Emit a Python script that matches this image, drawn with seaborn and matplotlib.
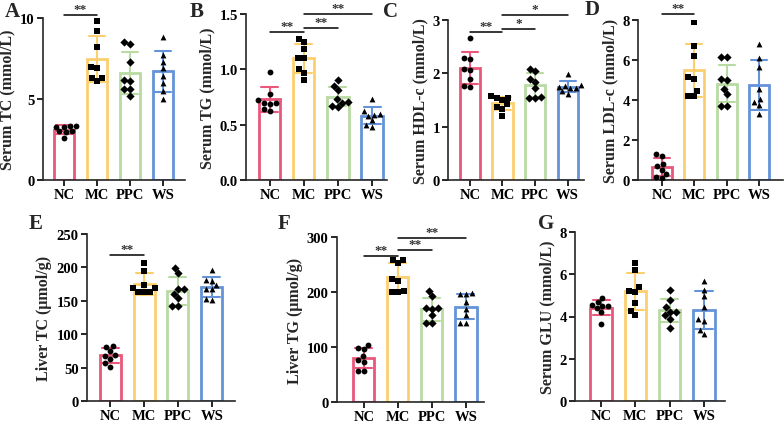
import numpy as np
import pandas as pd
import seaborn as sns
import matplotlib.pyplot as plt

groups = ["NC", "MC", "PPC", "WS"]
palette = ["#E9577A", "#FBCF6E", "#B9DAA3", "#6593D8"]
markers = ["o", "s", "D", "^"]

serum_tc = {
    "NC": [3.35, 3.35, 3.3, 3.3, 3.0, 3.0, 2.6, 2.95],
    "MC": [9.8, 9.2, 8.2, 7.0, 6.9, 6.3, 6.1, 6.3],
    "PPC": [8.5, 8.4, 7.3, 6.2, 6.1, 5.6, 5.6, 5.2],
    "WS": [8.8, 7.7, 7.3, 6.9, 6.4, 6.0, 5.5, 5.0],
}
serum_tg = {
    "NC": [0.98, 0.78, 0.72, 0.70, 0.70, 0.69, 0.64, 0.62],
    "MC": [1.275, 1.25, 1.185, 1.10, 1.10, 1.0, 0.97, 0.905],
    "PPC": [0.90, 0.85, 0.81, 0.735, 0.705, 0.70, 0.67, 0.66],
    "WS": [0.73, 0.62, 0.60, 0.59, 0.58, 0.54, 0.50, 0.48],
}
serum_hdl = {
    "NC": [2.66, 2.26, 2.28, 2.09, 2.07, 1.90, 1.77, 1.75],
    "MC": [1.575, 1.54, 1.53, 1.50, 1.42, 1.375, 1.34, 1.20],
    "PPC": [2.09, 2.04, 1.89, 1.84, 1.73, 1.56, 1.54, 1.53],
    "WS": [1.98, 1.79, 1.77, 1.75, 1.73, 1.72, 1.66, 1.62],
}
serum_ldl = {
    "NC": [1.3, 1.2, 0.8, 0.7, 0.5, 0.3, 0.15, 0.1],
    "MC": [7.9, 6.7, 6.2, 5.13, 5.05, 4.47, 4.22, 4.22],
    "PPC": [6.13, 6.13, 5.05, 5.0, 4.55, 4.3, 3.72, 3.72],
    "WS": [6.79, 6.08, 5.63, 4.55, 4.05, 3.89, 3.76, 3.31],
}
liver_tc = {
    "NC": [82.5, 81.5, 75, 69, 67.5, 63.5, 56.5, 51.5],
    "MC": [206, 194, 173.5, 168.5, 168.5, 163.5, 162.5, 162.5],
    "PPC": [198.5, 191, 167.5, 167.5, 160, 153.5, 141.5, 141.5],
    "WS": [196, 181, 180, 173.5, 167.5, 167.5, 152.5, 151.5],
}
liver_tg = {
    "NC": [103.8, 97.8, 96, 84, 76.6, 73.6, 55.5, 55.5],
    "MC": [259, 259, 253, 223, 220, 201.6, 200, 200],
    "PPC": [201.6, 192.5, 171, 171, 169, 158, 143, 143],
    "WS": [198.5, 195.5, 195.5, 181, 170, 159, 143, 143],
}
serum_glu = {
    "NC": [4.87, 4.67, 4.55, 4.52, 4.49, 4.39, 4.2, 3.65],
    "MC": [6.53, 6.18, 5.39, 5.23, 5.18, 4.64, 4.28, 4.07],
    "PPC": [5.26, 4.8, 4.44, 4.23, 4.23, 4.07, 3.88, 3.44],
    "WS": [5.66, 5.26, 4.96, 4.44, 3.88, 3.77, 3.38, 3.17],
}

# significance brackets: (group a, group b, height, label)
sig_a = [(0, 1, 10.2, "**")]
sig_b = [(0, 1, 1.336, "**"), (1, 2, 1.375, "**"), (1, 3, 1.5, "**")]
sig_c = [(0, 1, 2.78, "**"), (1, 2, 2.84, "*"), (1, 3, 3.09, "*")]
sig_d = [(0, 1, 8.28, "**")]
sig_e = [(0, 1, 219, "**")]
sig_f = [(0, 1, 265, "**"), (1, 2, 276, "**"), (1, 3, 299, "**")]
sig_g = []

panels = [
    # letter, data, ylabel, yticks, sig, axes px (left, right, top, bottom), xlim, letter px
    ("A", serum_tc, "Serum TC (mmol/L)", [0, 5, 10], sig_a, (43, 185, 19, 181), (-0.64, 3.67), (12, 12)),
    ("B", serum_tg, "Serum TG (mmol/L)", [0.0, 0.5, 1.0, 1.5], sig_b, (246, 387, 15, 181), (-0.7, 3.44), (197, 12)),
    ("C", serum_hdl, "Serum HDL-c (mmol/L)", [0, 1, 2, 3], sig_c, (448, 584, 21, 181), (-0.67, 3.5), (390, 12)),
    ("D", serum_ldl, "Serum LDL-c (mmol/L)", [0, 2, 4, 6, 8], sig_d, (638, 783, 21, 181), (-0.74, 3.74), (592, 10)),
    ("E", liver_tc, "Liver TC (\u03bcmol/g)", [0, 50, 100, 150, 200, 250], sig_e, (87, 235, 235, 402), (-0.68, 3.68), (36, 224)),
    ("F", liver_tg, "Liver TG (\u03bcmol/g)", [0, 100, 200, 300], sig_f, (337, 484, 238, 403), (-0.79, 3.53), (284, 224)),
    ("G", serum_glu, "Serum GLU (mmol/L)", [0, 2, 4, 6, 8], sig_g, (575, 725, 233, 402), (-0.76, 3.61), (546, 224)),
]

sns.set_theme(style="ticks")
plt.rcParams["font.family"] = ["Liberation Serif", "DejaVu Serif"]
plt.rcParams["font.weight"] = "bold"
plt.rcParams["axes.linewidth"] = 1.2

W, H = 784, 427
fig = plt.figure(figsize=(W / 100, H / 100), dpi=100)

for letter, data, ylabel, yticks, sigs, (l, r, t, b), xlim, (lx, ly) in panels:
    ax = fig.add_axes([l / W, 1 - b / H, (r - l) / W, (b - t) / H])
    df = pd.DataFrame([(g, v) for g in groups for v in data[g]], columns=["group", "value"])
    sns.barplot(data=df, x="group", y="value", hue="group", order=groups, hue_order=groups,
                palette=palette, fill=False, linewidth=2, width=0.62, errorbar="sd",
                capsize=0.5, err_kws={"linewidth": 1.5}, legend=False, ax=ax)
    for g, m in zip(groups, markers):
        sns.swarmplot(data=df[df.group == g], x="group", y="value", order=groups,
                      color="black", marker=m, size=4.2, linewidth=0, ax=ax)
    ax.set_xlim(*xlim)
    ax.set_ylim(0, yticks[-1])
    ax.set_yticks(yticks)
    if letter == "B":
        ax.set_yticklabels([f"{v:.1f}" for v in yticks])
    ax.set_xlabel("")
    ax.set_ylabel(ylabel, fontsize=11.5, fontweight="bold", labelpad=3)
    ax.tick_params(axis="both", labelsize=10.5, width=1.2, length=4, pad=2, colors="black")
    for lab in ax.get_xticklabels() + ax.get_yticklabels():
        lab.set_fontweight("bold")
    sns.despine(ax=ax)
    for i, j, y, txt in sigs:
        ax.plot([i, j], [y, y], color="black", lw=1.1, clip_on=False)
        ax.text((i + j) / 2, y, txt, ha="center", va="bottom", fontsize=9.5,
                color="#333333", clip_on=False)
    fig.text(lx / W, 1 - ly / H, letter, ha="center", va="center", fontsize=15, fontweight="bold")

fig.savefig("out.png", dpi=100)
